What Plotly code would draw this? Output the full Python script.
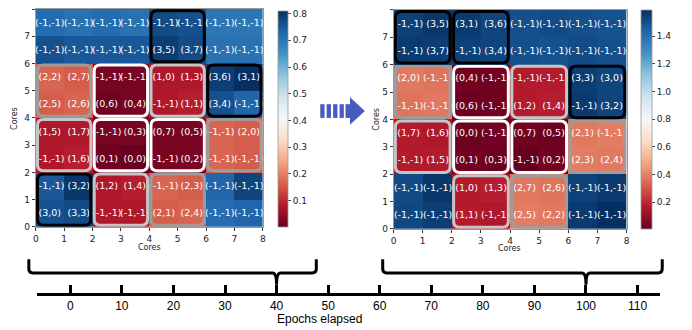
import plotly.graph_objects as go

# page body adds an 8px margin; the figure is sized to fill the rest of the window
OFF = 8
W, H = 692 - OFF, 330 - OFF

# ---------------- data ----------------
cores = [0.5, 1.5, 2.5, 3.5, 4.5, 5.5, 6.5, 7.5]
core_ticks = [0, 1, 2, 3, 4, 5, 6, 7, 8]

# rows listed top (y=7) to bottom (y=0)
left_labels = [
    ["(-1,-1)", "(-1,-1)", "(-1,-1)", "(-1,-1)", "(-1,-1)", "(-1,-1)", "(-1,-1)", "(-1,-1)"],
    ["(-1,-1)", "(-1,-1)", "(-1,-1)", "(-1,-1)", "(3,5)", "(3,7)", "(-1,-1)", "(-1,-1)"],
    ["(2,2)", "(2,7)", "(-1,-1)", "(-1,-1)", "(1,0)", "(1,3)", "(3,6)", "(3,1)"],
    ["(2,5)", "(2,6)", "(0,6)", "(0,4)", "(-1,-1)", "(1,1)", "(3,4)", "(-1,-1)"],
    ["(1,5)", "(1,7)", "(-1,-1)", "(0,3)", "(0,7)", "(0,5)", "(-1,-1)", "(2,0)"],
    ["(-1,-1)", "(1,6)", "(0,1)", "(0,0)", "(-1,-1)", "(0,2)", "(-1,-1)", "(-1,-1)"],
    ["(-1,-1)", "(3,2)", "(1,2)", "(1,4)", "(-1,-1)", "(2,3)", "(-1,-1)", "(-1,-1)"],
    ["(3,0)", "(3,3)", "(-1,-1)", "(-1,-1)", "(2,1)", "(2,4)", "(-1,-1)", "(-1,-1)"],
]
left_values = [
    [0.72, 0.71, 0.72, 0.71, 0.77, 0.76, 0.70, 0.70],
    [0.76, 0.75, 0.75, 0.75, 0.79, 0.77, 0.71, 0.71],
    [0.17, 0.16, 0.02, 0.02, 0.08, 0.08, 0.79, 0.81],
    [0.16, 0.17, 0.01, 0.02, 0.08, 0.09, 0.76, 0.73],
    [0.08, 0.08, 0.02, 0.02, 0.02, 0.02, 0.17, 0.16],
    [0.08, 0.09, 0.01, 0.002, 0.02, 0.02, 0.17, 0.16],
    [0.75, 0.80, 0.08, 0.09, 0.17, 0.16, 0.73, 0.78],
    [0.76, 0.77, 0.08, 0.08, 0.16, 0.17, 0.72, 0.73],
]
left_cbar_ticks = [0.1, 0.2, 0.3, 0.4, 0.5, 0.6, 0.7, 0.8]

right_labels = [
    ["(-1,-1)", "(3,5)", "(3,1)", "(3,6)", "(-1,-1)", "(-1,-1)", "(-1,-1)", "(-1,-1)"],
    ["(-1,-1)", "(3,7)", "(-1,-1)", "(3,4)", "(-1,-1)", "(-1,-1)", "(-1,-1)", "(-1,-1)"],
    ["(2,0)", "(-1,-1)", "(0,4)", "(-1,-1)", "(-1,-1)", "(-1,-1)", "(3,3)", "(3,0)"],
    ["(-1,-1)", "(-1,-1)", "(0,6)", "(-1,-1)", "(1,2)", "(1,4)", "(-1,-1)", "(3,2)"],
    ["(1,7)", "(1,6)", "(0,0)", "(-1,-1)", "(0,7)", "(0,5)", "(2,1)", "(-1,-1)"],
    ["(-1,-1)", "(1,5)", "(0,1)", "(0,3)", "(-1,-1)", "(0,2)", "(2,3)", "(2,4)"],
    ["(-1,-1)", "(-1,-1)", "(1,0)", "(1,3)", "(2,7)", "(2,6)", "(-1,-1)", "(-1,-1)"],
    ["(-1,-1)", "(-1,-1)", "(1,1)", "(-1,-1)", "(2,5)", "(2,2)", "(-1,-1)", "(-1,-1)"],
]
right_values = [
    [1.54, 1.57, 1.56, 1.53, 1.50, 1.51, 1.50, 1.49],
    [1.56, 1.55, 1.54, 1.53, 1.50, 1.49, 1.51, 1.50],
    [0.38, 0.37, 0.03, 0.03, 0.17, 0.17, 1.55, 1.53],
    [0.37, 0.38, 0.02, 0.03, 0.17, 0.18, 1.56, 1.53],
    [0.17, 0.16, 0.02, 0.03, 0.03, 0.02, 0.38, 0.39],
    [0.17, 0.17, 0.03, 0.02, 0.008, 0.03, 0.39, 0.38],
    [1.51, 1.57, 0.17, 0.18, 0.38, 0.37, 1.54, 1.56],
    [1.52, 1.55, 0.17, 0.16, 0.39, 0.38, 1.56, 1.59],
]
right_cbar_ticks = [0.2, 0.4, 0.6, 0.8, 1.0, 1.2, 1.4]

epoch_ticks = [0, 10, 20, 30, 40, 50, 60, 70, 80, 90, 100, 110]
snapshot_epochs = [40, 100]
epoch_range = [-6.5, 114.4]

group_outline = {3: "#000000", 0: "#ffffff", 1: "#c6c6c6", 2: "#9c9c9c"}

# ---------------- helpers (reference pixel -> paper) ----------------
def pxx(x):
    return (x - OFF) / W

def pxy(y):
    return 1 - (y - OFF) / H

RDBU = [
    [0.0, "rgb(103,0,31)"], [0.1, "rgb(178,24,43)"], [0.2, "rgb(214,96,77)"],
    [0.3, "rgb(244,165,130)"], [0.4, "rgb(253,219,199)"], [0.5, "rgb(247,247,247)"],
    [0.6, "rgb(209,229,240)"], [0.7, "rgb(146,197,222)"], [0.8, "rgb(67,147,195)"],
    [0.9, "rgb(33,102,172)"], [1.0, "rgb(5,48,97)"],
]

FONT = "DejaVu Sans"

def rrect(x0, y0, x1, y1, rx, ry):
    return (f"M{x0+rx},{y0} L{x1-rx},{y0} Q{x1},{y0} {x1},{y0+ry} "
            f"L{x1},{y1-ry} Q{x1},{y1} {x1-rx},{y1} L{x0+rx},{y1} "
            f"Q{x0},{y1} {x0},{y1-ry} L{x0},{y0+ry} Q{x0},{y0} {x0+rx},{y0} Z")

def block_shapes(labels, xref, yref):
    shapes = []
    rows = labels[::-1]  # bottom-up
    for by in range(0, 8, 2):
        for bx in range(0, 8, 2):
            grp = None
            for j in range(by, by + 2):
                for i in range(bx, bx + 2):
                    g = int(rows[j][i].strip("()").split(",")[0])
                    if g >= 0:
                        grp = g
            if grp is None:
                continue
            ins = 0.06
            shapes.append(dict(
                type="path", xref=xref, yref=yref,
                path=rrect(bx + ins, by + ins, bx + 2 - ins, by + 2 - ins, 0.22, 0.22),
                line=dict(color=group_outline[grp], width=3),
            ))
    return shapes

fig = go.Figure()

fig.add_trace(go.Heatmap(
    x=cores, y=cores, z=left_values[::-1], text=left_labels[::-1],
    texttemplate="%{text}", textfont=dict(size=9.5, color="white", family=FONT),
    colorscale=RDBU, xaxis="x", yaxis="y", hoverinfo="skip",
    colorbar=dict(x=pxx(277), xanchor="left", y=pxy(120), yanchor="middle",
                  len=220 / H, lenmode="fraction", thickness=10, xpad=0, ypad=0,
                  outlinewidth=0.8, outlinecolor="#999",
                  tickvals=left_cbar_ticks, ticks="outside", ticklen=3,
                  tickfont=dict(size=9, family=FONT, color="#222")),
))
fig.add_trace(go.Heatmap(
    x=cores, y=cores, z=right_values[::-1], text=right_labels[::-1],
    texttemplate="%{text}", textfont=dict(size=9.5, color="white", family=FONT),
    colorscale=RDBU, xaxis="x2", yaxis="y2", hoverinfo="skip",
    colorbar=dict(x=pxx(644), xanchor="left", y=pxy(120.5), yanchor="middle",
                  len=223 / H, lenmode="fraction", thickness=11, xpad=0, ypad=0,
                  outlinewidth=0.8, outlinecolor="#999",
                  tickvals=right_cbar_ticks, ticks="outside", ticklen=3,
                  tickformat=".1f",
                  tickfont=dict(size=9, family=FONT, color="#222")),
))
# invisible trace to activate the timeline axis
fig.add_trace(go.Scatter(x=[epoch_ticks[0]], y=[0], xaxis="x3", yaxis="y3",
                         mode="markers", marker=dict(opacity=0), hoverinfo="skip",
                         showlegend=False))

hm_axis = dict(range=[0, 8], tickvals=core_ticks, ticks="outside", ticklen=3,
               tickwidth=0.8, tickcolor="#333", showgrid=False, zeroline=False,
               showline=True, linecolor="#999", linewidth=0.8, mirror=True,
               tickfont=dict(size=9, family=FONT, color="#222"))

fig.update_layout(
    width=W, height=H, margin=dict(l=0, r=0, t=0, b=0),
    paper_bgcolor="white", plot_bgcolor="white", showlegend=False,
    xaxis=dict(domain=[pxx(33), pxx(262)], anchor="y", **hm_axis),
    yaxis=dict(domain=[pxy(230), pxy(8)], anchor="x", **hm_axis),
    xaxis2=dict(domain=[pxx(394), pxx(629)], anchor="y2", **hm_axis),
    yaxis2=dict(domain=[pxy(232), pxy(9)], anchor="x2", **hm_axis),
    xaxis3=dict(domain=[pxx(34), pxx(663)], anchor="y3", range=epoch_range,
                tickvals=epoch_ticks, ticks="inside", ticklen=8, tickwidth=3,
                tickcolor="black", showline=True, linecolor="black", linewidth=3,
                showgrid=False, zeroline=False,
                tickfont=dict(size=12, family="Liberation Sans", color="black")),
    yaxis3=dict(domain=[pxy(297), pxy(297) + 0.04], anchor="x3", visible=False,
                range=[0, 1]),
)

shapes = []
shapes += block_shapes(left_labels, "x", "y")
shapes += block_shapes(right_labels, "x2", "y2")

# braces linking snapshots to epochs
def epoch_px(e):
    return 34 + (e - epoch_range[0]) * (663 - 34) / (epoch_range[1] - epoch_range[0])

def brace(x0, x1, tip, ytop=263, ymid=277, ybot=289):
    pts = [
        ("M", x0, ytop), ("L", x0, ymid - 4), ("Q", x0, ymid, x0 + 4, ymid),
        ("L", tip - 4, ymid), ("Q", tip, ymid, tip, ybot),
        ("Q", tip, ymid, tip + 4, ymid), ("L", x1 - 4, ymid),
        ("Q", x1, ymid, x1, ymid - 4), ("L", x1, ytop),
    ]
    s = ""
    for p in pts:
        cmd = p[0]
        coords = p[1:]
        cs = " ".join(f"{pxx(coords[k]):.5f},{pxy(coords[k+1]):.5f}"
                      for k in range(0, len(coords), 2))
        s += f"{cmd}{cs} "
    return s.strip()

brace_spans = [(26, 316), (383, 665)]
for (a, b), e in zip(brace_spans, snapshot_epochs):
    shapes.append(dict(type="path", xref="paper", yref="paper",
                       path=brace(a, b, epoch_px(e)),
                       line=dict(color="black", width=3)))

# block arrow between the two heatmaps
ARROW = "#4a5bbf"
for bx in [320, 326.5, 333, 339.5]:
    shapes.append(dict(type="rect", xref="paper", yref="paper",
                       x0=pxx(bx), x1=pxx(bx + 4.3), y0=pxy(119), y1=pxy(105),
                       fillcolor=ARROW, line=dict(width=0)))
shapes.append(dict(type="rect", xref="paper", yref="paper",
                   x0=pxx(345.5), x1=pxx(351), y0=pxy(119), y1=pxy(105),
                   fillcolor=ARROW, line=dict(width=0)))
shapes.append(dict(type="path", xref="paper", yref="paper",
                   path=f"M{pxx(350)},{pxy(98)} L{pxx(365)},{pxy(112)} L{pxx(350)},{pxy(126)} Z",
                   fillcolor=ARROW, line=dict(width=0)))

fig.update_layout(shapes=shapes)

def label(text, x, y, size, family, angle=0, color="#222"):
    return dict(text=text, x=pxx(x), y=pxy(y), xref="paper", yref="paper",
                xanchor="center", yanchor="middle", showarrow=False,
                textangle=angle, borderpad=0,
                font=dict(size=size, family=family, color=color))

ann = [
    label("Cores", 147.5, 251, 8, FONT),
    label("Cores", 511, 252, 8, FONT),
    label("Cores", 12, 119, 8, FONT, -90),
    label("Cores", 377, 120, 8, FONT, -90),
    label("Epochs elapsed", 319, 323.5, 12, "Liberation Sans", color="black"),
]
fig.update_layout(annotations=ann)

fig.write_html("out.html")
